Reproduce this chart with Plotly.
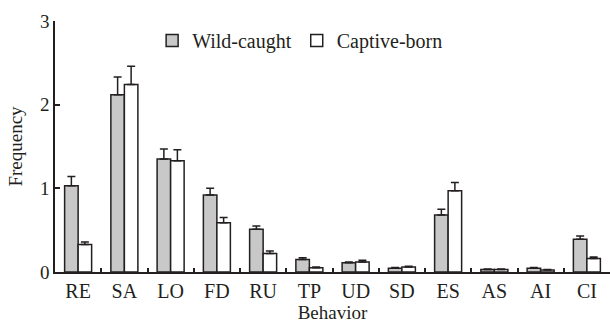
import plotly.graph_objects as go

categories = ["RE", "SA", "LO", "FD", "RU", "TP", "UD", "SD", "ES", "AS", "AI", "CI"]
wild_vals = [1.03, 2.12, 1.35, 0.92, 0.51, 0.15, 0.11, 0.045, 0.68, 0.03, 0.045, 0.39]
wild_err = [0.11, 0.21, 0.12, 0.08, 0.04, 0.02, 0.01, 0.01, 0.07, 0.005, 0.01, 0.04]
capt_vals = [0.33, 2.24, 1.33, 0.59, 0.22, 0.05, 0.12, 0.06, 0.97, 0.03, 0.025, 0.16]
capt_err = [0.03, 0.22, 0.13, 0.06, 0.03, 0.01, 0.02, 0.01, 0.10, 0.005, 0.005, 0.02]
zeros = [0] * len(categories)

FONT = "Liberation Serif"
LINE = "#231f20"

fig = go.Figure()
fig.add_trace(go.Bar(
    x=categories, y=wild_vals, name="Wild-caught",
    marker=dict(color="#c8c8c8", line=dict(color=LINE, width=1.5)),
    error_y=dict(type="data", symmetric=False, array=wild_err, arrayminus=zeros,
                 color=LINE, thickness=1.5, width=4),
))
fig.add_trace(go.Bar(
    x=categories, y=capt_vals, name="Captive-born",
    marker=dict(color="#ffffff", line=dict(color=LINE, width=1.5)),
    error_y=dict(type="data", symmetric=False, array=capt_err, arrayminus=zeros,
                 color=LINE, thickness=1.5, width=4),
))

fig.update_layout(
    width=610, height=325,
    margin=dict(l=55, r=0, t=21, b=53, autoexpand=False),
    paper_bgcolor="white", plot_bgcolor="white",
    barmode="group", bargap=0.416, bargroupgap=0,
    font=dict(family=FONT, size=19, color=LINE),
    showlegend=True,
    legend=dict(orientation="h", x=0.175, y=1.0, xanchor="left", yanchor="top",
                font=dict(family=FONT, size=20, color=LINE),
                bgcolor="rgba(0,0,0,0)", itemwidth=30),
    xaxis=dict(
        type="category", showline=True, linecolor=LINE, linewidth=1.5,
        ticks="inside", tickson="boundaries", ticklen=4, tickwidth=1.5, tickcolor=LINE,
        showgrid=False, zeroline=False,
        tickfont=dict(family=FONT, size=20, color=LINE),
        title=dict(text="Behavior", font=dict(family=FONT, size=19, color=LINE), standoff=4),
    ),
    yaxis=dict(
        range=[0, 3], tickvals=[0, 1, 2, 3], showline=True, linecolor=LINE, linewidth=1.5,
        ticks="inside", ticklen=5, tickwidth=1.5, tickcolor=LINE,
        showgrid=False, zeroline=False,
        tickfont=dict(family=FONT, size=19, color=LINE),
        title=dict(text="Frequency", font=dict(family=FONT, size=19, color=LINE), standoff=12),
    ),
)

fig.write_html("out.html", config={"displayModeBar": False},
               post_script="document.body.style.margin='0';")
